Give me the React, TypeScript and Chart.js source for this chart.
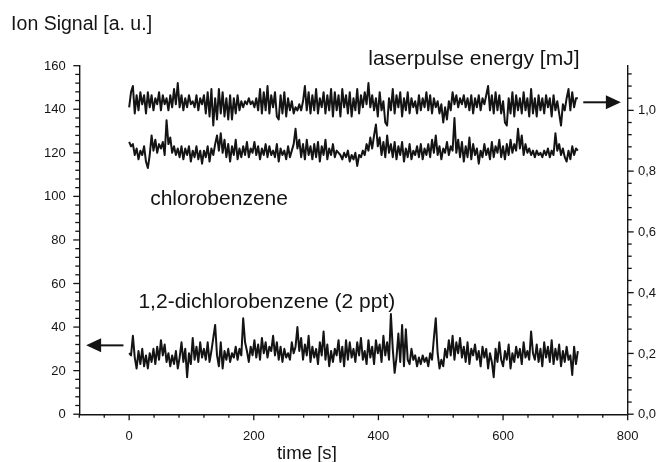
import React, { useEffect, useRef } from 'react';
import { Chart, registerables } from 'chart.js';

Chart.register(...registerables);

// ---------- data ----------
const SAMPLE_STEP_S = 3; // one sample every 3 s, t = 0 ... 720 s

// laserpulse energy [mJ] (right axis)
const LASER_MJ = [
  1.01, 1.06, 1.08, 0.99, 1.05, 1.00, 1.06, 1.02, 1.05, 0.99,
  1.06, 1.01, 1.05, 1.00, 1.04, 1.02, 1.06, 1.00, 1.05, 1.02,
  1.04, 1.00, 1.05, 1.01, 1.07, 1.02, 1.09, 1.01, 1.05, 1.00,
  1.04, 1.01, 1.05, 1.02, 1.03, 1.01, 1.05, 1.00, 1.04, 1.02,
  1.05, 0.99, 1.06, 0.98, 1.07, 0.95, 1.04, 0.97, 1.07, 0.99,
  1.06, 0.98, 1.04, 0.97, 1.05, 0.97, 1.04, 0.99, 1.05, 1.00,
  1.03, 1.01, 1.03, 1.02, 1.04, 1.02, 1.03, 1.01, 1.04, 1.00,
  1.07, 0.99, 1.06, 1.00, 1.08, 0.99, 1.05, 1.01, 1.06, 0.98,
  0.97, 1.05, 0.99, 1.06, 0.98, 1.04, 1.00, 1.03, 0.99, 1.01,
  1.00, 1.02, 1.00, 1.03, 1.08, 1.00, 1.06, 0.99, 1.05, 1.00,
  1.07, 0.99, 1.04, 1.01, 1.06, 0.99, 1.05, 1.00, 1.07, 0.98,
  1.06, 1.00, 1.05, 0.98, 1.07, 1.01, 1.05, 0.99, 1.06, 0.98,
  1.04, 1.00, 1.07, 0.99, 1.05, 1.01, 1.06, 1.02, 1.09, 1.01,
  1.05, 1.00, 1.04, 0.98, 1.06, 1.00, 1.03, 0.96, 0.95, 1.04,
  1.00, 1.07, 0.99, 1.05, 1.01, 1.06, 0.98, 1.04, 1.00, 1.06,
  0.99, 1.04, 1.01, 1.03, 0.99, 1.05, 1.00, 1.04, 1.01, 1.06,
  1.00, 1.05, 0.99, 1.04, 1.01, 1.03, 0.99, 1.02, 0.96, 1.01,
  0.97, 1.03, 1.00, 1.06, 1.02, 1.05, 1.01, 1.04, 1.02, 1.05,
  1.01, 1.04, 1.00, 1.05, 0.99, 1.04, 1.01, 1.05, 1.00, 1.04,
  1.02, 1.05, 1.08, 1.00, 1.05, 0.99, 1.06, 1.00, 1.05, 0.99,
  1.03, 0.96, 0.95, 1.04, 0.99, 1.06, 0.98, 1.05, 1.00, 1.04,
  0.99, 1.06, 1.00, 1.04, 0.98, 1.07, 0.99, 1.04, 0.98, 1.05,
  1.00, 1.04, 0.99, 1.05, 1.01, 1.04, 0.98, 1.05, 1.00, 1.03,
  0.99, 0.95, 1.02, 1.00, 1.04, 1.07, 1.00, 1.06, 1.01, 1.04,
  1.04,
];

// chlorobenzene ion signal [a. u.] (left axis)
const CHLOROBENZENE = [
  125, 123, 124, 119, 122, 117, 121, 119, 123, 116,
  113, 119, 128, 121, 126, 120, 124, 122, 125, 119,
  135, 124, 127, 120, 123, 119, 122, 118, 123, 117,
  122, 119, 123, 116, 121, 118, 123, 117, 121, 115,
  121, 118, 123, 116, 122, 119, 124, 128, 121, 129,
  120, 126, 118, 124, 116, 123, 119, 126, 117, 122,
  118, 123, 119, 125, 118, 122, 120, 125, 119, 123,
  117, 122, 119, 124, 118, 123, 119, 121, 118, 124,
  116, 122, 119, 121, 117, 123, 118, 121, 124, 131,
  122, 126, 118, 124, 117, 126, 119, 123, 117, 124,
  118, 125, 116, 123, 119, 126, 117, 122, 119, 124,
  118, 121, 120, 119, 117, 120, 118, 121, 116, 119,
  117, 120, 114, 119, 118, 121, 119, 124, 121, 127,
  122, 128, 133, 123, 127, 119, 125, 118, 128, 120,
  124, 118, 125, 117, 123, 119, 125, 116, 122, 118,
  124, 117, 121, 119, 123, 118, 124, 117, 122, 119,
  124, 118, 126, 120, 128, 119, 123, 117, 122, 120,
  125, 119, 123, 121, 136, 120, 126, 118, 125, 116,
  123, 118, 127, 117, 124, 119, 122, 115, 121, 118,
  124, 119, 122, 117, 125, 118, 123, 120, 126, 118,
  123, 117, 124, 119, 126, 120, 124, 121, 131, 122,
  128, 119, 124, 120, 122, 119, 121, 118, 121, 119,
  120, 118, 121, 119, 122, 118, 121, 119, 129, 121,
  124, 119, 122, 118, 116, 121, 117, 123, 119, 122,
  121,
];

// 1,2-dichlorobenzene (2 ppt) ion signal [a. u.] (left axis)
const DICHLOROBENZENE = [
  28, 27, 36, 26, 21, 29, 23, 30, 22, 27,
  21, 28, 24, 30, 23, 31, 25, 34, 27, 32,
  24, 28, 22, 27, 23, 29, 21, 26, 33, 24,
  30, 17, 28, 23, 35, 25, 31, 24, 33, 26,
  30, 25, 33, 24, 29, 35, 41, 27, 22, 33,
  21, 29, 25, 30, 24, 28, 26, 31, 25, 30,
  27, 44, 33, 29, 24, 31, 27, 34, 26, 32,
  25, 35, 28, 33, 26, 31, 29, 36, 27, 33,
  25, 31, 24, 30, 26, 28, 25, 33, 28, 31,
  40, 29, 35, 25, 32, 27, 36, 24, 31, 26,
  30, 23, 33, 27, 38, 25, 32, 22, 29, 24,
  30, 27, 34, 24, 31, 22, 34, 25, 33, 26,
  30, 24, 33, 27, 35, 25, 29, 23, 34, 26,
  31, 23, 34, 28, 32, 24, 36, 27, 33, 25,
  46, 30, 19, 26, 37, 24, 41, 22, 39, 25,
  23, 30, 25, 27, 22, 26, 23, 27, 24, 26,
  22, 28, 25, 35, 44, 28, 21, 25, 22, 30,
  26, 34, 27, 36, 25, 33, 28, 35, 26, 31,
  24, 33, 23, 30, 27, 32, 25, 29, 22, 31,
  26, 30, 21, 28, 24, 17, 30, 24, 33, 25,
  22, 29, 25, 32, 21, 28, 24, 31, 26, 30,
  23, 33, 26, 29, 25, 38, 28, 25, 32, 24,
  30, 22, 33, 26, 31, 24, 34, 23, 30, 25,
  32, 22, 29, 24, 31, 25, 27, 18, 31, 23,
  29,
];

// axes
const X_MIN = -80;
const X_MAX = 800;
const X_MINOR = 40;
const X_MAJOR = 200;
const X_TICK_LABELS = [0, 200, 400, 600, 800];

const Y_MAX = 160;
const Y_MINOR = 4;
const Y_TICK_LABELS = [0, 20, 40, 60, 80, 100, 120, 140, 160];

const Y2_MAX = 1.147;
const Y2_MINOR = 0.04;
const Y2_TICK_LABELS = [0, 0.2, 0.4, 0.6, 0.8, 1.0];

// texts placed in data coordinates (x: time, y: left axis)
const TEXTS = [
  { text: 'Ion Signal [a. u.]', x: -189.4, y: 176.2, size: 19.5 },
  { text: 'laserpulse energy [mJ]', x: 383.7, y: 160.3, size: 21 },
  { text: 'chlorobenzene', x: 33.7, y: 96, size: 21 },
  { text: '1,2-dichlorobenzene (2 ppt)', x: 14.9, y: 48.7, size: 21 },
  { text: 'time [s]', x: 237.1, y: -20.7, size: 18.6 },
];

// arrows (tail x, tip x, y on left axis)
const ARROWS = [
  { from: 728.7, to: 789, y: 143.2 },
  { from: -9.2, to: -69, y: 31.6 },
];

const FONT = '"Liberation Sans", Arial, Helvetica, sans-serif';
const INK = '#141414';

const decorPlugin = {
  id: 'decor',
  afterDraw(chart: any) {
    const ctx: CanvasRenderingContext2D = chart.ctx;
    const sx = chart.scales.x;
    const sy = chart.scales.y;
    const sy2 = chart.scales.y2;
    const leftX = sy.right;
    const rightX = sy2.left;
    const baseY = sx.top;

    ctx.save();
    ctx.strokeStyle = INK;
    ctx.fillStyle = INK;
    ctx.lineWidth = 1.3;
    ctx.lineCap = 'butt';

    const seg = (x1: number, y1: number, x2: number, y2: number) => {
      ctx.beginPath();
      ctx.moveTo(x1, y1);
      ctx.lineTo(x2, y2);
      ctx.stroke();
    };

    // x ticks (outward, down)
    const nx = Math.round((X_MAX - X_MIN) / X_MINOR);
    for (let i = 0; i <= nx; i++) {
      const v = X_MIN + i * X_MINOR;
      const px = sx.getPixelForValue(v);
      const major = v % X_MAJOR === 0;
      seg(px, baseY, px, baseY + (major ? 6 : 3.5));
    }
    // left y ticks (outward, left)
    const ny = Math.round(Y_MAX / Y_MINOR);
    for (let i = 0; i <= ny; i++) {
      const py = sy.getPixelForValue(i * Y_MINOR);
      const major = i % 5 === 0;
      seg(leftX, py, leftX - (major ? 6 : 4), py);
    }
    // right y ticks (outward, right)
    for (let i = 0; i * Y2_MINOR <= Y2_MAX + 1e-9; i++) {
      const py = sy2.getPixelForValue(i * Y2_MINOR);
      const major = i % 5 === 0;
      seg(rightX, py, rightX + (major ? 6 : 4), py);
    }

    // tick labels
    ctx.font = `13px ${FONT}`;
    ctx.textAlign = 'center';
    ctx.textBaseline = 'alphabetic';
    for (const v of X_TICK_LABELS) {
      ctx.fillText(String(v), sx.getPixelForValue(v), baseY + 25.5);
    }
    ctx.textAlign = 'right';
    ctx.textBaseline = 'middle';
    for (const v of Y_TICK_LABELS) {
      ctx.fillText(String(v), leftX - 13.6, sy.getPixelForValue(v) + 0.5);
    }
    ctx.textAlign = 'left';
    for (const v of Y2_TICK_LABELS) {
      ctx.fillText(v.toFixed(1).replace('.', ','), rightX + 10.3, sy2.getPixelForValue(v) + 0.5);
    }

    // texts
    ctx.textAlign = 'left';
    ctx.textBaseline = 'alphabetic';
    for (const t of TEXTS) {
      ctx.font = `${t.size}px ${FONT}`;
      ctx.fillText(t.text, sx.getPixelForValue(t.x), sy.getPixelForValue(t.y));
    }

    // arrows
    for (const a of ARROWS) {
      const x1 = sx.getPixelForValue(a.from);
      const x2 = sx.getPixelForValue(a.to);
      const y = sy.getPixelForValue(a.y);
      const dir = Math.sign(x2 - x1);
      const headLen = 15;
      const halfW = 7;
      const bx = x2 - dir * headLen;
      ctx.lineWidth = 2;
      seg(x1, y, bx + dir * 1, y);
      ctx.beginPath();
      ctx.moveTo(x2, y);
      ctx.lineTo(bx, y - halfW);
      ctx.lineTo(bx, y + halfW);
      ctx.closePath();
      ctx.fill();
    }
    ctx.restore();
  },
};

const toPoints = (vals: number[]) => vals.map((v, i) => ({ x: i * SAMPLE_STEP_S, y: v }));

export default function App() {
  const canvasRef = useRef<HTMLCanvasElement | null>(null);

  useEffect(() => {
    document.body.style.margin = '0';
    const canvas = canvasRef.current;
    if (!canvas) return;

    const lineStyle = {
      borderColor: INK,
      borderWidth: 2,
      pointRadius: 0,
      tension: 0,
      borderJoinStyle: 'round' as const,
      fill: false,
    };

    const border = { display: true, color: INK, width: 1.4 };

    const chart = new Chart(canvas, {
      type: 'line',
      data: {
        datasets: [
          { label: 'laserpulse energy [mJ]', data: toPoints(LASER_MJ), yAxisID: 'y2', ...lineStyle },
          { label: 'chlorobenzene', data: toPoints(CHLOROBENZENE), yAxisID: 'y', ...lineStyle },
          { label: '1,2-dichlorobenzene (2 ppt)', data: toPoints(DICHLOROBENZENE), yAxisID: 'y', ...lineStyle },
        ],
      },
      options: {
        animation: false,
        responsive: false,
        maintainAspectRatio: false,
        devicePixelRatio: 1,
        layout: { padding: { top: 65.7, left: 0, right: 0, bottom: 0 } },
        plugins: {
          legend: { display: false },
          tooltip: { enabled: false },
          title: { display: false },
        },
        scales: {
          x: {
            type: 'linear',
            min: X_MIN,
            max: X_MAX,
            ticks: { display: false, stepSize: X_MINOR },
            grid: { display: false },
            border,
            afterFit: (s: any) => { s.height = 47.8; },
          },
          y: {
            type: 'linear',
            position: 'left',
            min: 0,
            max: Y_MAX,
            ticks: { display: false, stepSize: 20 },
            grid: { display: false },
            border,
            afterFit: (s: any) => { s.width = 79.3; },
          },
          y2: {
            type: 'linear',
            position: 'right',
            min: 0,
            max: Y2_MAX,
            ticks: { display: false, stepSize: 0.2, includeBounds: false },
            grid: { display: false },
            border,
            afterFit: (s: any) => { s.width = 38.3; },
          },
        },
      },
      plugins: [decorPlugin],
    });

    return () => chart.destroy();
  }, []);

  return (
    <div style={{ width: 666, height: 462, background: '#fff' }}>
      <canvas ref={canvasRef} width={666} height={462} style={{ display: 'block' }} />
    </div>
  );
}
